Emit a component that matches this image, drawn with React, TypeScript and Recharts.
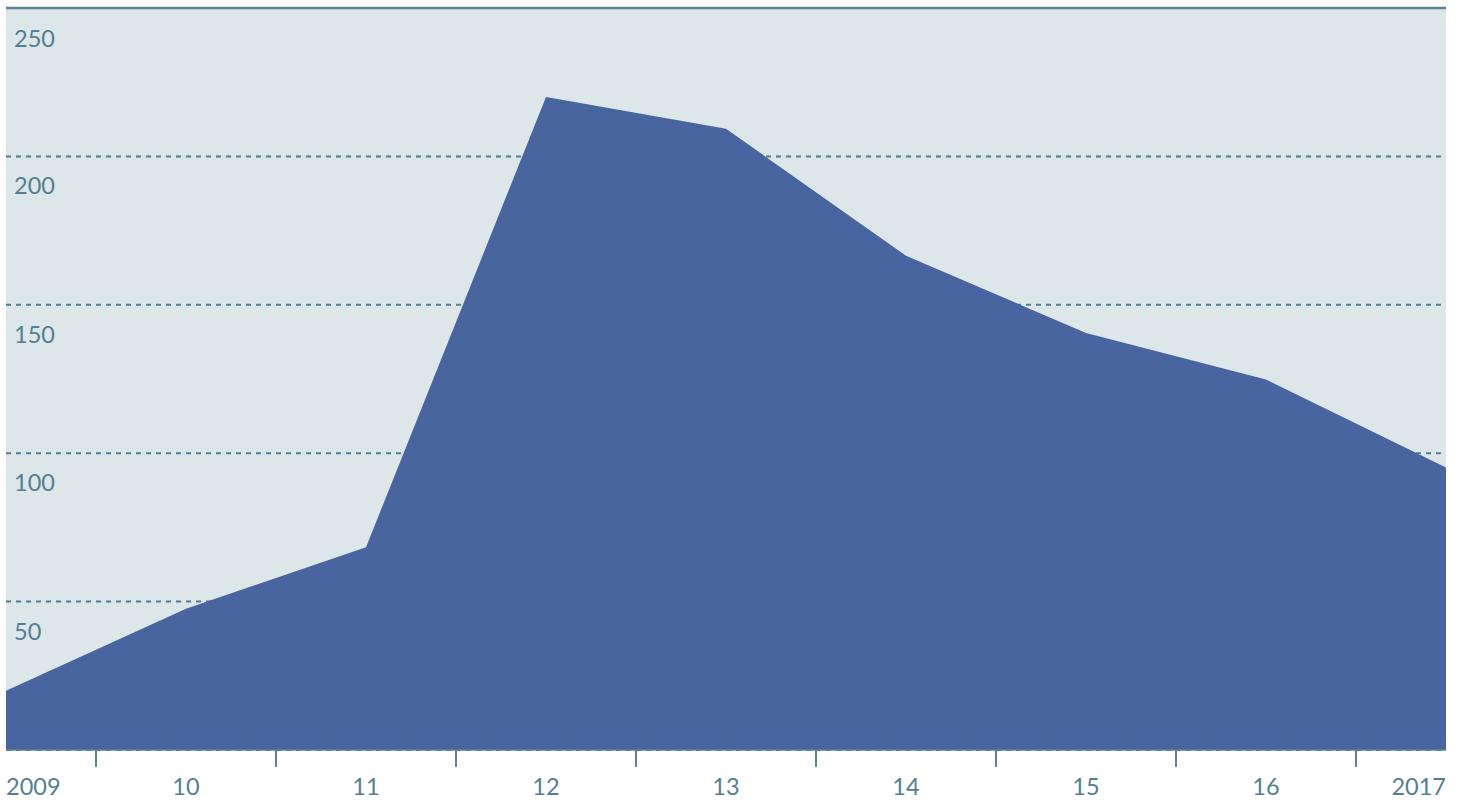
import { AreaChart, Area, XAxis, YAxis, CartesianGrid, ReferenceLine } from "recharts";

const years = ["2009", "10", "11", "12", "13", "14", "15", "16", "2017"];
const values = [20, 47.6, 68.3, 220, 209.3, 166.5, 140.5, 124.8, 95.2];
const yTicks = [0, 50, 100, 150, 200, 250];

const data = years.map((year, i) => ({ year, value: values[i] }));

const TEXT = "#527f91";
const LINE = "#5a8597";

function XTick(props: any) {
  const { x, y, payload, index, visibleTicksCount, width } = props;
  const step = width / (visibleTicksCount - 1);
  const anchor = index === 0 ? "start" : index === visibleTicksCount - 1 ? "end" : "middle";
  return (
    <g>
      {index > 0 && (
        <line x1={x - step / 2} x2={x - step / 2} y1={y - 8} y2={y + 9} stroke={LINE} strokeWidth={2} />
      )}
      <text x={x} y={y + 37} textAnchor={anchor} fill={TEXT} fontSize={23.5} fontFamily="Lato">
        {payload.value}
      </text>
    </g>
  );
}

function YTick(props: any) {
  const { y, payload } = props;
  if (payload.value === 0) return null;
  return (
    <text x={14} y={y + 38} textAnchor="start" fill={TEXT} fontSize={23.5} fontFamily="Lato">
      {payload.value}
    </text>
  );
}

export default function App() {
  return (
    <div style={{ position: "absolute", left: 0, top: 0, background: "#fff" }}>
      <AreaChart width={1465} height={806} data={data} margin={{ top: 8, right: 19, left: 6, bottom: 0 }}>
        <CartesianGrid
          vertical={false}
          fill="#dde6e8"
          stroke="#4f7f92"
          strokeWidth={2}
          strokeDasharray="5 5"
          fillOpacity={1}
        />
        <XAxis
          dataKey="year"
          interval={0}
          axisLine={{ stroke: LINE, strokeWidth: 1.5 }}
          tickLine={false}
          tick={<XTick />}
          height={56}
        />
        <YAxis
          domain={[0, 250]}
          ticks={yTicks}
          width={1}
          mirror
          axisLine={false}
          tickLine={false}
          tick={<YTick />}
        />
        <Area
          type="linear"
          dataKey="value"
          stroke="none"
          fill="#4865a0"
          fillOpacity={1}
          isAnimationActive={false}
        />
        <ReferenceLine y={250} stroke={LINE} strokeWidth={2.5} />
      </AreaChart>
    </div>
  );
}
